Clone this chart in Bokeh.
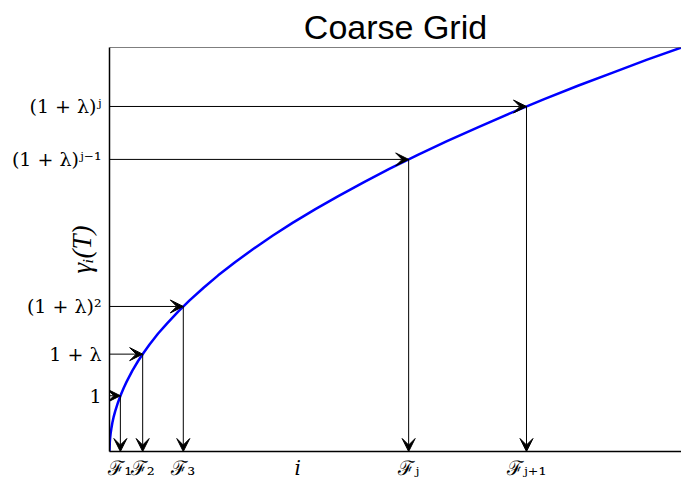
from bokeh.plotting import figure
from bokeh.models import Arrow, VeeHead, Span, FixedTicker, Range1d
from bokeh.embed import file_html
from bokeh.resources import INLINE

# curve gamma_i(T)
curve_x = [0, 0.05, 0.1, 0.2, 0.35, 0.5, 0.75, 1, 1.5, 2, 2.5, 3, 4, 5, 6, 7, 8.5, 10,
           12, 14, 16.5, 19, 22, 25, 28.5, 32, 36, 40, 44.5, 49, 54, 59, 64.5, 70,
           76, 82, 88, 94, 100]
curve_y = [0, 0.22, 0.32, 0.45, 0.59, 0.71, 0.87, 1.0, 1.22, 1.41, 1.58, 1.73, 2.0,
           2.24, 2.45, 2.65, 2.92, 3.16, 3.46, 3.74, 4.06, 4.36, 4.69, 5.0, 5.34,
           5.66, 6.0, 6.32, 6.67, 7.0, 7.35, 7.68, 8.03, 8.37, 8.72, 9.06, 9.38,
           9.7, 10.0]

# marked points (F_1, F_2, F_3, F_j, F_{j+1})
mark_x = [1.9, 5.8, 12.9, 52.3, 72.9]
mark_y = [1.38, 2.41, 3.59, 7.23, 8.54]

y_labels = ["1", "1 + λ", "(1 + λ)²", "(1 + λ)ʲ⁻¹", "(1 + λ)ʲ"]
x_labels = ["ℱ₁", "ℱ₂", "ℱ₃", "ℱⱼ", "ℱⱼ₊₁"]
i_pos = 32.9
i_label = "𝑖"

p = figure(width=681, height=487, x_range=Range1d(0, 100), y_range=Range1d(0, 10),
           output_backend="svg", toolbar_location=None,
           min_border_left=109, min_border_right=0, min_border_top=47,
           min_border_bottom=36, title="Coarse Grid")
p.title.align = "center"
p.title.text_font = "Liberation Sans"
p.title.text_font_size = "34px"
p.title.text_font_style = "normal"
p.title.text_color = "black"
p.title.standoff = 4

p.xgrid.visible = False
p.ygrid.visible = False
p.outline_line_color = None

for ax in (p.xaxis, p.yaxis):
    ax.axis_line_width = 1.5
    ax.axis_line_color = "black"
    ax.major_tick_line_color = None
    ax.minor_tick_line_color = None
    ax.major_tick_out = 0
    ax.major_tick_in = 0
    ax.major_label_text_font = "DejaVu Serif"
    ax.major_label_text_color = "black"

p.yaxis.ticker = FixedTicker(ticks=mark_y)
p.yaxis.major_label_overrides = {v: s for v, s in zip(mark_y, y_labels)}
p.yaxis.major_label_text_font_size = "19px"
p.yaxis.major_label_standoff = 8
p.yaxis.axis_label = "γᵢ(T)"
p.yaxis.axis_label_text_font = "Liberation Serif"
p.yaxis.axis_label_text_font_style = "italic"
p.yaxis.axis_label_text_font_size = "27px"
p.yaxis.axis_label_text_color = "black"
p.yaxis.axis_label_standoff = -88

xt = mark_x + [i_pos]
p.xaxis.ticker = FixedTicker(ticks=xt)
ov = {v: s for v, s in zip(mark_x, x_labels)}
ov[i_pos] = i_label
p.xaxis.major_label_overrides = ov
p.xaxis.major_label_text_font_size = "20px"
p.xaxis.major_label_standoff = 4

p.add_layout(Span(location=10, dimension="width", line_color="black", line_width=1))

p.line(curve_x, curve_y, line_color="#0000ff", line_width=2.5)

for x, y in zip(mark_x, mark_y):
    p.add_layout(Arrow(end=VeeHead(size=13, fill_color="black", line_color="black"),
                       x_start=0, y_start=y, x_end=x, y_end=y,
                       line_color="black", line_width=1))
    p.add_layout(Arrow(end=VeeHead(size=13, fill_color="black", line_color="black"),
                       x_start=x, y_start=y, x_end=x, y_end=0,
                       line_color="black", line_width=1))

open("out.html", "w").write(file_html(p, INLINE))
